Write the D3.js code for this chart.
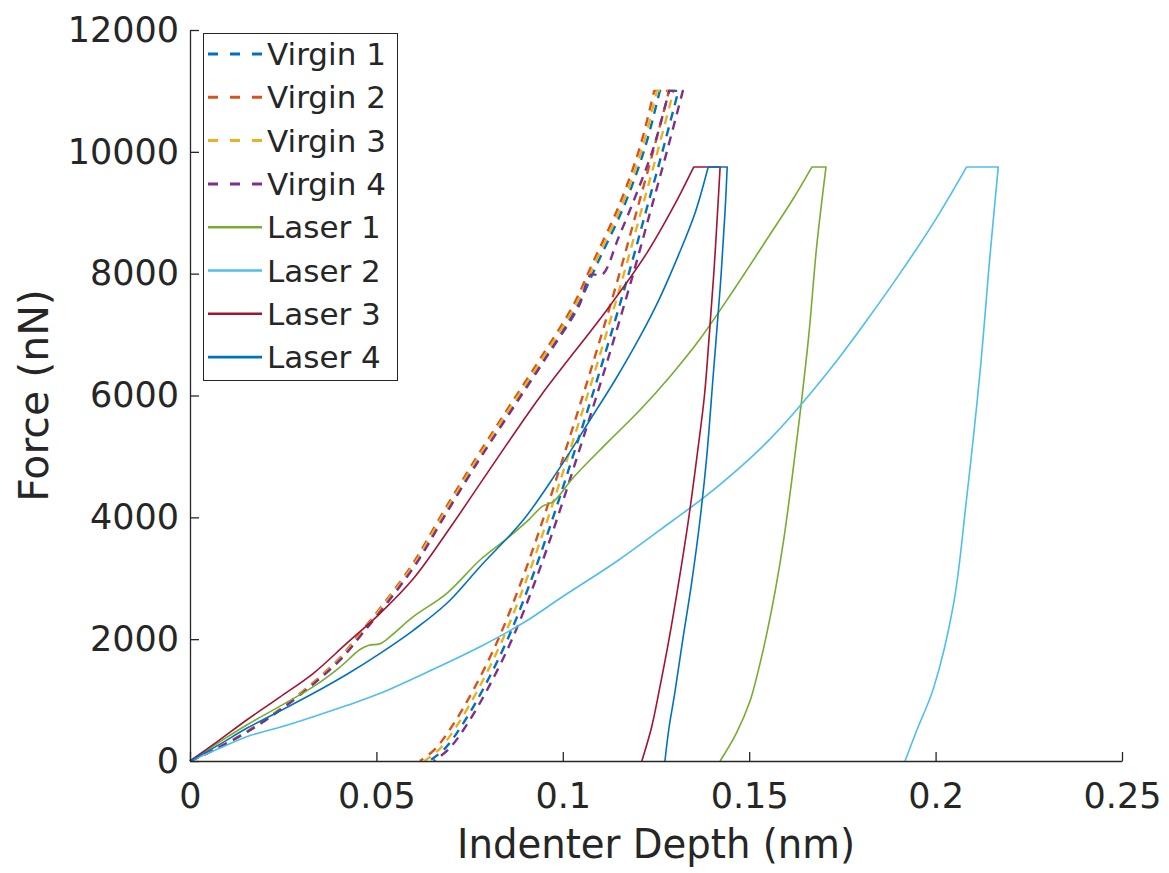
<!DOCTYPE html>
<html>
<head>
<meta charset="utf-8">
<script src="https://cdn.jsdelivr.net/npm/d3@7"></script>
<style>
  body { margin: 0; background: #fff; }
  text { font-family: "DejaVu Sans", sans-serif; fill: #262626; }
</style>
</head>
<body>
<div id="chart"></div>
<script>
// [depth (nm), force (nN)]; loading branch, then unloading branch
// (the hold at peak force joins the last loading point to the first unloading point)
var virgin1Load = [[0,0],[0.0064,180],[0.0154,480],[0.0244,850],[0.0335,1290],[0.0405,1680],[0.0461,2096],[0.0534,2650],[0.0606,3250],[0.0679,4000],[0.0769,4900],[0.0860,5760],[0.0950,6600],[0.1040,7480],[0.1095,8200],[0.1167,9150],[0.1221,10080],[0.1260,11000]];
var virgin1Unload = [[0.1310,11000],[0.1267,10000],[0.1222,9000],[0.1177,8000],[0.1129,7000],[0.1079,6000],[0.1027,5000],[0.0974,4000],[0.0917,3000],[0.0852,2000],[0.0788,1200],[0.0731,600],[0.0683,200],[0.0642,0]];
var virgin2Load = [[0,0],[0.0063,180],[0.0152,480],[0.0241,850],[0.0331,1290],[0.0400,1680],[0.0456,2096],[0.0528,2650],[0.0599,3250],[0.0671,4000],[0.0760,4900],[0.0850,5760],[0.0939,6600],[0.1028,7480],[0.1082,8200],[0.1153,9150],[0.1207,10080],[0.1245,11000]];
var virgin2Unload = [[0.1285,11000],[0.1242,10000],[0.1197,9000],[0.1152,8000],[0.1104,7000],[0.1054,6000],[0.1002,5000],[0.0949,4000],[0.0892,3000],[0.0827,2000],[0.0763,1200],[0.0706,600],[0.0658,200],[0.0617,0]];
var virgin3Load = [[0,0],[0.0063,180],[0.0153,480],[0.0242,850],[0.0333,1290],[0.0402,1680],[0.0459,2096],[0.0531,2650],[0.0603,3250],[0.0675,4000],[0.0765,4900],[0.0855,5760],[0.0945,6600],[0.1034,7480],[0.1088,8200],[0.1160,9150],[0.1214,10080],[0.1252,11000]];
var virgin3Unload = [[0.1297,11000],[0.1254,10000],[0.1209,9000],[0.1164,8000],[0.1116,7000],[0.1066,6000],[0.1014,5000],[0.0961,4000],[0.0904,3000],[0.0839,2000],[0.0775,1200],[0.0718,600],[0.0670,200],[0.0629,0]];
var virgin4Load = [[0,0],[0.0064,180],[0.0154,480],[0.0245,850],[0.0336,1290],[0.0406,1680],[0.0463,2096],[0.0536,2650],[0.0608,3250],[0.0681,4000],[0.0771,4900],[0.0863,5760],[0.0953,6600],[0.1044,7480],[0.1075,7980],[0.1105,7980],[0.1150,8600],[0.1200,9350],[0.1245,10100],[0.1285,11000]];
var virgin4Unload = [[0.1322,11000],[0.1279,10000],[0.1234,9000],[0.1189,8000],[0.1141,7000],[0.1091,6000],[0.1039,5000],[0.0986,4000],[0.0929,3000],[0.0864,2000],[0.0800,1200],[0.0743,600],[0.0695,200],[0.0654,0]];
var laser1Load = [[0,0],[0.0076,300],[0.0152,591],[0.0250,930],[0.0331,1220],[0.0400,1530],[0.0456,1830],[0.0480,1900],[0.0510,1925],[0.0540,2060],[0.0599,2369],[0.0689,2753],[0.0778,3300],[0.0850,3650],[0.0912,3980],[0.0945,4180],[0.0975,4260],[0.1028,4650],[0.1120,5230],[0.1207,5762],[0.1290,6330],[0.1368,6927],[0.1457,7720],[0.1547,8560],[0.1618,9230],[0.1668,9750]];
var laser1Unload = [[0.1706,9750],[0.1681,8448],[0.1660,7000],[0.1636,5681],[0.1614,4600],[0.1592,3608],[0.1570,2800],[0.1547,2087],[0.1525,1500],[0.1502,980],[0.1465,450],[0.1422,0]];
var laser2Load = [[0,0],[0.0076,200],[0.0152,399],[0.0250,570],[0.0331,727],[0.0420,910],[0.0510,1111],[0.0640,1470],[0.0778,1876],[0.0900,2290],[0.1000,2700],[0.1150,3300],[0.1297,3956],[0.1380,4330],[0.1457,4720],[0.1547,5230],[0.1618,5700],[0.1726,6500],[0.1815,7230],[0.1904,8000],[0.1994,8830],[0.2083,9750]];
var laser2Unload = [[0.2168,9750],[0.2146,8300],[0.2119,6374],[0.2083,4301],[0.2048,2571],[0.1994,1188],[0.1949,496],[0.1918,0]];
var laser3Load = [[0,0],[0.0076,330],[0.0152,673],[0.0241,1050],[0.0331,1440],[0.0420,1930],[0.0510,2424],[0.0600,3000],[0.0700,3850],[0.0800,4750],[0.0939,5980],[0.1118,7404],[0.1225,8334],[0.1297,9099],[0.1351,9750]];
var laser3Unload = [[0.1422,9750],[0.1415,9000],[0.1405,8000],[0.1393,7000],[0.1380,6000],[0.1362,5100],[0.1337,3956],[0.1310,2900],[0.1285,2000],[0.1260,1200],[0.1238,550],[0.1212,0]];
var laser4Load = [[0,0],[0.0076,260],[0.0152,537],[0.0241,820],[0.0331,1111],[0.0420,1420],[0.0510,1768],[0.0600,2150],[0.0689,2589],[0.0778,3190],[0.0894,3956],[0.0985,4750],[0.1073,5598],[0.1140,6250],[0.1207,6965],[0.1260,7600],[0.1310,8300],[0.1355,9000],[0.1390,9750]];
var laser4Unload = [[0.1441,9750],[0.1435,9000],[0.1422,7757],[0.1404,6374],[0.1386,4990],[0.1368,3956],[0.1345,2900],[0.1322,2000],[0.1300,1100],[0.1285,550],[0.1274,0]];

var seriesNames = ["Virgin 1", "Virgin 2", "Virgin 3", "Virgin 4", "Laser 1", "Laser 2", "Laser 3", "Laser 4"];
var seriesLoad = [virgin1Load, virgin2Load, virgin3Load, virgin4Load, laser1Load, laser2Load, laser3Load, laser4Load];
var seriesUnload = [virgin1Unload, virgin2Unload, virgin3Unload, virgin4Unload, laser1Unload, laser2Unload, laser3Unload, laser4Unload];
var seriesColors = ["#0072BD", "#D95319", "#EDB120", "#7E2F8E", "#77AC30", "#4DBEEE", "#A2142F", "#0072BD"];
var seriesDashed = [true, true, true, true, false, false, false, false];

var xTicks = [0, 0.05, 0.1, 0.15, 0.2, 0.25];
var xTickLabels = ["0", "0.05", "0.1", "0.15", "0.2", "0.25"];
var yTicks = [0, 2000, 4000, 6000, 8000, 10000, 12000];

var width = 1169, height = 873;
var margin = { top: 30, right: 47, bottom: 112, left: 190 };

var x = d3.scaleLinear()
    .domain([0, 0.25])
    .range([margin.left, width - margin.right]);
var y = d3.scaleLinear()
    .domain([0, 12000])
    .range([height - margin.bottom, margin.top]);

var svg = d3.select("#chart").append("svg")
    .attr("width", width)
    .attr("height", height);

// curves: smooth each branch, straight hold between them
var line = d3.line()
    .x(function (d) { return x(d[0]); })
    .y(function (d) { return y(d[1]); })
    .curve(d3.curveCatmullRom.alpha(0.5));

svg.append("g")
    .selectAll("path")
    .data(seriesNames)
    .join("path")
    .attr("d", function (d, i) { return line(seriesLoad[i]) + line(seriesUnload[i]).replace(/^M/, "L"); })
    .attr("fill", "none")
    .attr("stroke", function (d, i) { return seriesColors[i]; })
    .attr("stroke-width", function (d, i) { return seriesDashed[i] ? 2.4 : 1.6; })
    .attr("stroke-dasharray", function (d, i) { return seriesDashed[i] ? "9,7" : null; })
    .attr("stroke-linejoin", "round");

// x axis (ticks point inward)
var xAxis = svg.append("g")
    .attr("transform", "translate(0," + y(0) + ")")
    .call(d3.axisBottom(x)
        .tickValues(xTicks)
        .tickFormat(function (d, i) { return xTickLabels[i]; })
        .tickSizeInner(-9)
        .tickSizeOuter(0)
        .tickPadding(22));

// y axis
var yAxis = svg.append("g")
    .attr("transform", "translate(" + x(0) + ",0)")
    .call(d3.axisLeft(y)
        .tickValues(yTicks)
        .tickFormat(d3.format("d"))
        .tickSizeInner(-9)
        .tickSizeOuter(0)
        .tickPadding(11));

[xAxis, yAxis].forEach(function (g) {
    g.attr("font-family", "DejaVu Sans").attr("font-size", 35);
    g.selectAll("path, line").attr("stroke", "#262626").attr("stroke-width", 1.3);
    g.selectAll("text").attr("fill", "#262626");
});

// axis titles
svg.append("text")
    .attr("x", (x(0) + x(0.25)) / 2)
    .attr("y", 858)
    .attr("text-anchor", "middle")
    .attr("font-size", 41)
    .attr("textLength", 398)
    .attr("lengthAdjust", "spacingAndGlyphs")
    .text("Indenter Depth (nm)");

svg.append("text")
    .attr("transform", "translate(48," + ((y(0) + y(12000)) / 2) + ") rotate(-90)")
    .attr("text-anchor", "middle")
    .attr("font-size", 41)
    .text("Force (nN)");

// legend
var legend = svg.append("g");
legend.append("rect")
    .attr("x", 203.5).attr("y", 33.5)
    .attr("width", 194).attr("height", 347)
    .attr("fill", "#fff")
    .attr("stroke", "#262626")
    .attr("stroke-width", 1);

var item = legend.selectAll(".item")
    .data(seriesNames)
    .join("g")
    .attr("class", "item")
    .attr("transform", function (d, i) { return "translate(0," + (54 + i * 43.3) + ")"; });

item.append("line")
    .attr("x1", 208).attr("x2", 262)
    .attr("stroke", function (d, i) { return seriesColors[i]; })
    .attr("stroke-width", function (d, i) { return seriesDashed[i] ? 3 : 2.6; })
    .attr("stroke-dasharray", function (d, i) { return seriesDashed[i] ? "10,12" : null; });

item.append("text")
    .attr("x", 267)
    .attr("dy", "0.36em")
    .attr("font-size", 31)
    .text(function (d) { return d; });
</script>
</body>
</html>
